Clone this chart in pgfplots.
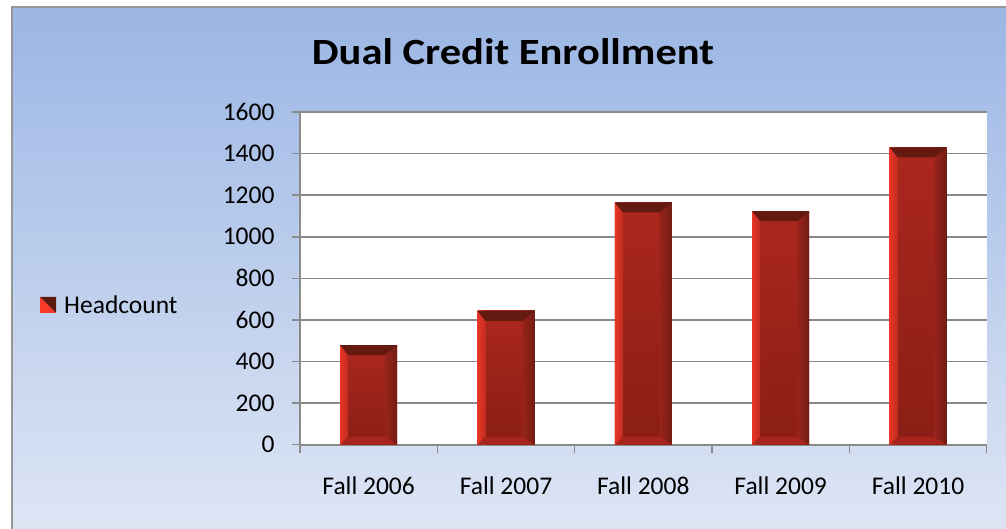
\documentclass[border=0pt]{standalone}
\usepackage{fontspec}
\setmainfont{Carlito}
\usepackage{pgfplots}
\pgfplotsset{compat=1.18}
\definecolor{bgtop}{RGB}{155,182,228}
\definecolor{bgbot}{RGB}{224,231,245}
\definecolor{framegray}{RGB}{150,150,150}
\definecolor{gridgray}{RGB}{138,138,138}
\definecolor{barbody}{RGB}{172,39,30}
\definecolor{barbodybot}{RGB}{138,30,22}
\definecolor{barlight}{RGB}{250,58,40}
\definecolor{bardark}{RGB}{92,25,16}
\definecolor{bartop}{RGB}{100,26,17}
\definecolor{barbot}{RGB}{165,37,28}
\pgfdeclarehorizontalshading{leftstrip}{100bp}{color(0bp)=(barlight); color(100bp)=(barbody)}
\pgfdeclarehorizontalshading{rightstrip}{100bp}{color(0bp)=(barbody); color(100bp)=(bardark)}
\newcommand\bb[3]{\pgfpointadd{\pgfpointanchor{path picture bounding box}{#1}}{\pgfpoint{#2}{#3}}}
\newcommand\barbevel{%
  \pgfscope
  \pgfpathrectanglecorners{\bb{south west}{0pt}{0pt}}{\bb{north west}{8pt}{0pt}}%
  \pgfshadepath{leftstrip}{0}\pgfusepath{discard}%
  \pgfpathrectanglecorners{\bb{south east}{-12pt}{0pt}}{\bb{north east}{0pt}{0pt}}%
  \pgfshadepath{rightstrip}{0}\pgfusepath{discard}%
  \pgfsetfillcolor{barbot}%
  \pgfpathmoveto{\bb{south west}{0pt}{0pt}}%
  \pgfpathlineto{\bb{south east}{0pt}{0pt}}%
  \pgfpathlineto{\bb{south east}{-12pt}{8pt}}%
  \pgfpathlineto{\bb{south west}{8pt}{8pt}}%
  \pgfpathclose\pgfusepath{fill}%
  \pgfsetfillcolor{bartop}%
  \pgfpathmoveto{\bb{north west}{0pt}{0pt}}%
  \pgfpathlineto{\bb{north east}{0pt}{0pt}}%
  \pgfpathlineto{\bb{north east}{-12pt}{-10pt}}%
  \pgfpathlineto{\bb{north west}{8pt}{-10pt}}%
  \pgfpathclose\pgfusepath{fill}%
  \endpgfscope}
\newcommand\legmark{%
  \pgfscope
  \pgfsetfillcolor{barlight}%
  \pgfpathmoveto{\pgfpoint{0pt}{-8pt}}\pgfpathlineto{\pgfpoint{16pt}{-8pt}}\pgfpathlineto{\pgfpoint{0pt}{8pt}}%
  \pgfpathclose\pgfusepath{fill}%
  \pgfsetfillcolor{bardark}%
  \pgfpathmoveto{\pgfpoint{16pt}{-8pt}}\pgfpathlineto{\pgfpoint{16pt}{8pt}}\pgfpathlineto{\pgfpoint{0pt}{8pt}}%
  \pgfpathclose\pgfusepath{fill}%
  \pgfpathrectanglecorners{\pgfpoint{0pt}{-8pt}}{\pgfpoint{22pt}{8pt}}\pgfusepath{use as bounding box}%
  \endpgfscope}
\pgfplotsset{
  redbar/.style={ybar, bar width=0.415, draw=none, top color=barbody, bottom color=barbodybot,
    path picture={\barbevel}, legend image code/.code={\legmark}},
}
\begin{document}
\begin{tikzpicture}
\useasboundingbox (0pt,0pt) rectangle (1006pt,529pt);
\fill[white] (0pt,0pt) rectangle (1006pt,529pt);
\begin{scope}
\clip (0pt,0pt) rectangle (1006pt,529pt);
\shade[top color=bgtop, bottom color=bgbot] (12pt,-20pt) rectangle (1030pt,522pt);
\draw[framegray, line width=2.5pt] (12pt,-20pt) -- (12pt,522pt) -- (1030pt,522pt);
\end{scope}
\node[font=\fontsize{37}{44}\selectfont\bfseries, anchor=base, inner sep=0pt, xscale=1.15] at (513pt,464pt) {Dual Credit Enrollment};
\begin{axis}[
  at={(300pt,84.3pt)}, anchor=south west,
  scale only axis, width=686.7pt, height=332.7pt,
  xmin=-0.5, xmax=4.5, ymin=0, ymax=1600,
  axis x line*=bottom, axis y line*=left,
  axis line style={gridgray, line width=1.8pt},
  axis background/.style={fill=white},
  ytick={0,200,...,1600},
  xtick={-0.5,0.5,...,4.5}, xticklabels={},
  extra x ticks={0,1,2,3,4},
  extra x tick labels={Fall 2006,Fall 2007,Fall 2008,Fall 2009,Fall 2010},
  extra x tick style={major tick length=0pt, grid=none},
  tick align=outside, major tick length=8pt,
  tick style={gridgray, line width=1.5pt},
  ymajorgrids, grid style={gridgray, line width=1.5pt},
  tick label style={font=\fontsize{25.5}{30}\selectfont},
  yticklabel style={xshift=-14pt},
  xticklabel style={yshift=-29pt},
  /pgf/number format/assume math mode=true,
  /pgf/number format/1000 sep={},
  legend style={draw=none, fill=none, font=\fontsize{25.5}{30}\selectfont,
    at={(axis description cs:-0.3786,0.42)}, anchor=west, inner sep=0pt},
]
\addplot[redbar] coordinates {(0,479)};
\addlegendentry{Headcount}
\addplot[redbar, forget plot] coordinates {(1,643)};
\addplot[redbar, forget plot] coordinates {(2,1165)};
\addplot[redbar, forget plot] coordinates {(3,1123)};
\addplot[redbar, forget plot] coordinates {(4,1430)};
\end{axis}
\end{tikzpicture}
\end{document}
